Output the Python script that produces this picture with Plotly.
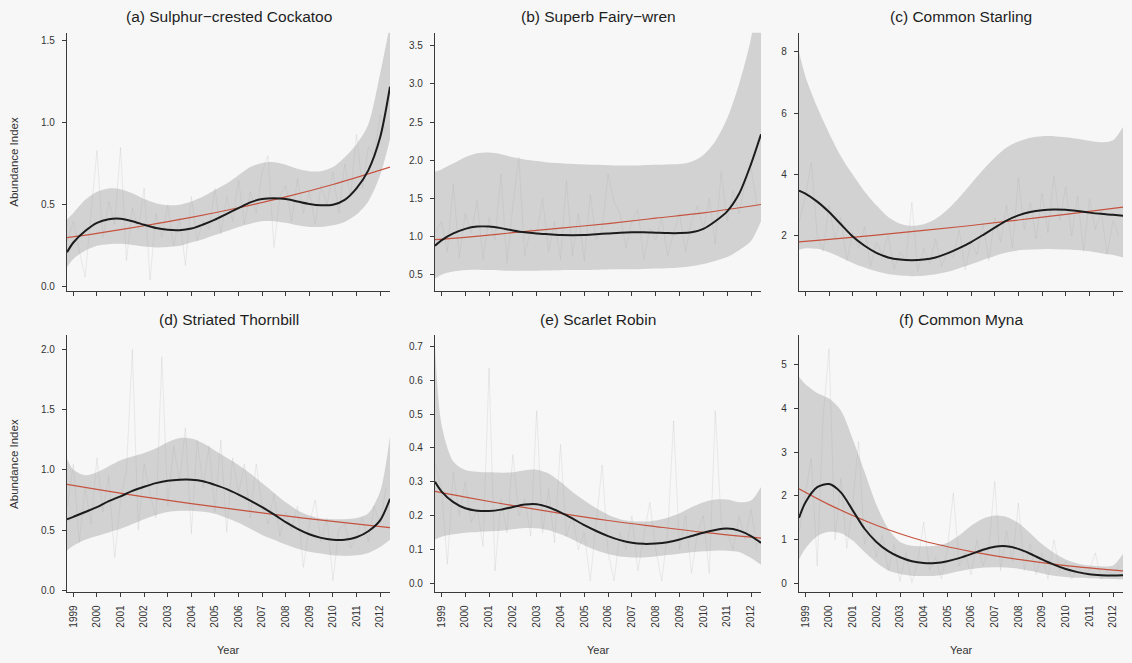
import numpy as np
import plotly.graph_objects as go

# ---- data -------------------------------------------------------------
# Half-yearly knots for the fitted smooth, its confidence band and the trend
KNOTS = [1998.73, 1999.0, 1999.5, 2000.0, 2000.5, 2001.0, 2001.5, 2002.0,
         2002.5, 2003.0, 2003.5, 2004.0, 2004.5, 2005.0, 2005.5, 2006.0,
         2006.5, 2007.0, 2007.5, 2008.0, 2008.5, 2009.0, 2009.5, 2010.0,
         2010.5, 2011.0, 2011.5, 2012.0, 2012.42]
TREND_KNOTS = [1998.73, 2000.0, 2002.0, 2004.0, 2006.0, 2008.0, 2010.0, 2012.42]
YEAR_TICKS = list(range(1999, 2013))
RAW_START = 1998.75  # first survey quarter

# (a) Sulphur-crested Cockatoo
cockatoo_raw = [0.28, 0.40, 0.22, 0.06, 0.45, 0.83, 0.30, 0.52, 0.38, 0.85,
                0.16, 0.48, 0.35, 0.60, 0.04, 0.45, 0.30, 0.50, 0.25, 0.42,
                0.13, 0.55, 0.28, 0.40, 0.35, 0.60, 0.32, 0.55, 0.40, 0.65,
                0.38, 0.58, 0.45, 0.70, 0.80, 0.24, 0.55, 0.62, 0.40, 0.66,
                0.45, 0.58, 0.38, 0.62, 0.50, 0.70, 0.45, 0.75, 0.55, 0.93,
                0.60, 0.85, 0.80, 1.05, 0.95]
cockatoo_fit = [0.21, 0.27, 0.34, 0.39, 0.412, 0.415, 0.40, 0.378, 0.358, 0.347,
                0.345, 0.355, 0.38, 0.41, 0.445, 0.48, 0.515, 0.535, 0.54, 0.535,
                0.52, 0.505, 0.497, 0.50, 0.53, 0.60, 0.71, 0.91, 1.22]
cockatoo_upper = [0.41, 0.45, 0.53, 0.58, 0.60, 0.595, 0.57, 0.535, 0.51, 0.497,
                  0.50, 0.52, 0.55, 0.59, 0.63, 0.68, 0.73, 0.755, 0.76, 0.745,
                  0.72, 0.705, 0.705, 0.73, 0.79, 0.87, 0.99, 1.30, 1.60]
cockatoo_lower = [0.12, 0.17, 0.22, 0.25, 0.26, 0.262, 0.255, 0.245, 0.24, 0.243,
                  0.25, 0.27, 0.29, 0.315, 0.34, 0.365, 0.385, 0.40, 0.40, 0.39,
                  0.375, 0.365, 0.365, 0.375, 0.395, 0.44, 0.52, 0.68, 0.90]
cockatoo_trend = [0.300, 0.326, 0.372, 0.423, 0.482, 0.548, 0.624, 0.730]

# (b) Superb Fairy-wren
fairywren_raw = [1.05, 1.20, 0.80, 1.69, 0.72, 1.30, 1.05, 1.47, 0.70, 1.25,
                 0.95, 1.82, 0.65, 1.40, 2.04, 0.75, 1.10, 1.05, 1.50, 0.80,
                 1.20, 0.70, 1.73, 0.75, 1.30, 0.68, 1.55, 0.95, 1.10, 1.82,
                 1.45, 1.30, 0.85, 1.20, 1.35, 0.70, 1.10, 0.95, 1.25, 0.75,
                 1.05, 1.30, 0.80, 1.20, 1.40, 1.10, 1.50, 0.90, 1.85, 1.20,
                 1.60, 1.30, 1.70, 1.90, 1.40]
fairywren_fit = [0.88, 0.95, 1.04, 1.10, 1.13, 1.13, 1.11, 1.08, 1.055, 1.04,
                 1.03, 1.02, 1.018, 1.02, 1.03, 1.04, 1.05, 1.055, 1.055, 1.05,
                 1.045, 1.045, 1.055, 1.10, 1.20, 1.33, 1.56, 1.95, 2.34]
fairywren_upper = [1.85, 1.88, 1.96, 2.04, 2.09, 2.10, 2.08, 2.04, 2.01, 1.99,
                   1.97, 1.96, 1.95, 1.945, 1.94, 1.935, 1.93, 1.93, 1.935, 1.94,
                   1.945, 1.95, 1.98, 2.07, 2.25, 2.55, 3.00, 3.60, 4.50]
fairywren_lower = [0.45, 0.50, 0.54, 0.56, 0.565, 0.56, 0.555, 0.55, 0.55, 0.552,
                   0.555, 0.558, 0.56, 0.56, 0.565, 0.568, 0.57, 0.572, 0.575, 0.58,
                   0.585, 0.595, 0.61, 0.64, 0.68, 0.73, 0.82, 0.94, 1.20]
fairywren_trend = [0.96, 0.99, 1.05, 1.11, 1.17, 1.24, 1.31, 1.42]

# (c) Common Starling
starling_raw = [2.5, 3.3, 4.40, 2.0, 1.5, 3.0, 1.9, 2.6, 1.2, 2.1,
                1.6, 2.3, 1.0, 1.8, 1.4, 2.0, 0.9, 1.5, 1.2, 3.1,
                0.85, 1.6, 1.1, 1.9, 1.0, 1.5, 1.3, 2.2, 0.9, 1.8,
                1.4, 2.4, 1.2, 2.6, 1.8, 3.0, 1.6, 3.9, 2.2, 3.1,
                1.9, 3.4, 2.1, 3.97, 2.5, 3.6, 2.0, 3.3, 1.5, 3.2,
                2.2, 2.8, 1.4, 2.5, 2.0]
starling_fit = [3.48, 3.38, 3.12, 2.78, 2.38, 1.98, 1.68, 1.45, 1.30, 1.23,
                1.21, 1.23, 1.30, 1.43, 1.60, 1.80, 2.03, 2.27, 2.50, 2.67,
                2.78, 2.84, 2.86, 2.85, 2.81, 2.76, 2.72, 2.69, 2.66]
starling_upper = [8.0, 7.2, 6.2, 5.35, 4.6, 4.0, 3.45, 3.0, 2.62, 2.40,
                  2.33, 2.38, 2.55, 2.85, 3.25, 3.70, 4.15, 4.55, 4.88, 5.08,
                  5.20, 5.25, 5.25, 5.22, 5.17, 5.10, 5.05, 5.12, 5.55]
starling_lower = [1.55, 1.60, 1.58, 1.47, 1.30, 1.12, 0.97, 0.85, 0.76, 0.71,
                  0.69, 0.70, 0.75, 0.83, 0.95, 1.08, 1.22, 1.35, 1.46, 1.53,
                  1.56, 1.57, 1.57, 1.56, 1.54, 1.50, 1.44, 1.38, 1.30]
starling_trend = [1.81, 1.89, 2.03, 2.18, 2.34, 2.52, 2.70, 2.94]

# (d) Striated Thornbill
thornbill_raw = [0.70, 1.05, 0.40, 0.85, 0.55, 1.10, 0.65, 0.95, 0.27, 0.75,
                 1.00, 2.00, 0.50, 1.05, 0.80, 0.60, 1.94, 0.70, 1.20, 0.90,
                 1.35, 0.47, 1.25, 0.85, 1.20, 0.65, 1.25, 0.48, 1.10, 0.80,
                 1.05, 0.60, 1.05, 0.70, 0.55, 0.80, 0.45, 0.65, 0.50, 0.70,
                 0.19, 0.55, 0.75, 0.40, 0.60, 0.08, 0.50, 0.55, 0.35, 0.45,
                 0.60, 0.40, 0.70, 0.55, 0.85]
thornbill_fit = [0.59, 0.61, 0.65, 0.69, 0.74, 0.78, 0.825, 0.86, 0.89, 0.91,
                 0.918, 0.918, 0.905, 0.875, 0.84, 0.795, 0.745, 0.69, 0.63, 0.565,
                 0.51, 0.465, 0.435, 0.42, 0.42, 0.44, 0.49, 0.58, 0.76]
thornbill_upper = [1.09, 1.00, 0.955, 0.98, 1.03, 1.08, 1.11, 1.14, 1.18, 1.23,
                   1.265, 1.26, 1.22, 1.16, 1.10, 1.04, 0.97, 0.89, 0.81, 0.73,
                   0.665, 0.62, 0.595, 0.59, 0.59, 0.60, 0.64, 0.82, 1.28]
thornbill_lower = [0.33, 0.37, 0.42, 0.45, 0.48, 0.51, 0.55, 0.59, 0.625, 0.65,
                   0.66, 0.66, 0.652, 0.635, 0.60, 0.56, 0.51, 0.46, 0.42, 0.38,
                   0.345, 0.32, 0.305, 0.29, 0.285, 0.29, 0.31, 0.36, 0.42]
thornbill_trend = [0.88, 0.838, 0.776, 0.72, 0.667, 0.617, 0.572, 0.52]

# (e) Scarlet Robin
robin_raw = [0.35, 0.28, 0.057, 0.33, 0.20, 0.30, 0.18, 0.22, 0.11, 0.635,
             0.037, 0.25, 0.15, 0.38, 0.20, 0.25, 0.14, 0.51, 0.15, 0.28,
             0.12, 0.41, 0.14, 0.20, 0.10, 0.15, 0.008, 0.18, 0.35, 0.09,
             0.008, 0.15, 0.10, 0.20, 0.037, 0.14, 0.24, 0.10, 0.008, 0.15,
             0.48, 0.10, 0.20, 0.03, 0.15, 0.20, 0.03, 0.51, 0.18, 0.15,
             0.10, 0.20, 0.13, 0.22, 0.10]
robin_fit = [0.30, 0.272, 0.24, 0.222, 0.215, 0.214, 0.218, 0.226, 0.233, 0.234,
             0.225, 0.21, 0.192, 0.172, 0.155, 0.14, 0.128, 0.12, 0.117, 0.118,
             0.122, 0.13, 0.14, 0.15, 0.158, 0.162, 0.156, 0.14, 0.12]
robin_upper = [0.70, 0.47, 0.36, 0.335, 0.33, 0.328, 0.327, 0.328, 0.334, 0.336,
               0.325, 0.30, 0.27, 0.245, 0.222, 0.203, 0.19, 0.184, 0.183, 0.186,
               0.194, 0.207, 0.225, 0.24, 0.248, 0.248, 0.24, 0.245, 0.285]
robin_lower = [0.13, 0.138, 0.145, 0.15, 0.152, 0.154, 0.156, 0.16, 0.164, 0.163,
               0.157, 0.145, 0.13, 0.113, 0.098, 0.087, 0.08, 0.077, 0.077, 0.08,
               0.084, 0.088, 0.092, 0.095, 0.097, 0.097, 0.093, 0.075, 0.055]
robin_trend = [0.272, 0.255, 0.23, 0.207, 0.186, 0.168, 0.151, 0.134]

# (f) Common Myna
myna_raw = [1.2, 2.0, 2.86, 0.4, 3.8, 5.36, 1.0, 2.4, 0.8, 1.8,
            3.24, 0.9, 1.3, 0.6, 1.1, 0.3, 0.9, 0.05, 0.7, 0.02,
            0.5, 1.4, 0.3, 0.6, 0.1, 0.8, 2.07, 0.4, 0.7, 0.2,
            1.0, 0.4, 0.8, 2.33, 0.3, 1.2, 0.5, 1.84, 0.3, 0.9,
            0.2, 0.7, 0.1, 1.0, 0.3, 0.5, 0.1, 0.4, 0.2, 0.3,
            0.7, 0.1, 0.3, 0.2, 0.4]
myna_fit = [1.50, 1.85, 2.20, 2.27, 2.08, 1.67, 1.25, 0.95, 0.74, 0.60,
            0.51, 0.47, 0.47, 0.51, 0.58, 0.67, 0.77, 0.84, 0.85, 0.79,
            0.68, 0.55, 0.43, 0.33, 0.26, 0.21, 0.19, 0.185, 0.19]
myna_upper = [4.72, 4.55, 4.35, 4.22, 3.95, 3.30, 2.55, 1.80, 1.25, 0.95,
              0.86, 0.85, 0.86, 0.93, 1.10, 1.32, 1.48, 1.55, 1.52, 1.38,
              1.15, 0.90, 0.70, 0.55, 0.46, 0.41, 0.39, 0.41, 0.68]
myna_lower = [0.55, 0.80, 1.08, 1.18, 1.15, 0.98, 0.72, 0.48, 0.30, 0.22,
              0.18, 0.17, 0.18, 0.22, 0.28, 0.33, 0.36, 0.37, 0.365, 0.34,
              0.29, 0.23, 0.18, 0.15, 0.13, 0.12, 0.11, 0.105, 0.10]
myna_trend = [2.16, 1.80, 1.33, 0.97, 0.73, 0.55, 0.41, 0.29]

PANELS = [
    dict(title="(a) Sulphur\u2212crested Cockatoo", raw=cockatoo_raw, fit=cockatoo_fit,
         upper=cockatoo_upper, lower=cockatoo_lower, trend=cockatoo_trend,
         yrange=[-0.024, 1.549], yticks=[0.0, 0.5, 1.0, 1.5], fmt="{:.1f}"),
    dict(title="(b) Superb Fairy\u2212wren", raw=fairywren_raw, fit=fairywren_fit,
         upper=fairywren_upper, lower=fairywren_lower, trend=fairywren_trend,
         yrange=[0.29, 3.67], yticks=[0.5, 1.0, 1.5, 2.0, 2.5, 3.0, 3.5], fmt="{:.1f}"),
    dict(title="(c) Common Starling", raw=starling_raw, fit=starling_fit,
         upper=starling_upper, lower=starling_lower, trend=starling_trend,
         yrange=[0.216, 8.62], yticks=[2, 4, 6, 8], fmt="{:d}"),
    dict(title="(d) Striated Thornbill", raw=thornbill_raw, fit=thornbill_fit,
         upper=thornbill_upper, lower=thornbill_lower, trend=thornbill_trend,
         yrange=[-0.017, 2.116], yticks=[0.0, 0.5, 1.0, 1.5, 2.0], fmt="{:.1f}"),
    dict(title="(e) Scarlet Robin", raw=robin_raw, fit=robin_fit,
         upper=robin_upper, lower=robin_lower, trend=robin_trend,
         yrange=[-0.026, 0.732], yticks=[0.0, 0.1, 0.2, 0.3, 0.4, 0.5, 0.6, 0.7],
         fmt="{:.1f}"),
    dict(title="(f) Common Myna", raw=myna_raw, fit=myna_fit,
         upper=myna_upper, lower=myna_lower, trend=myna_trend,
         yrange=[-0.2, 5.66], yticks=[0, 1, 2, 3, 4, 5], fmt="{:d}"),
]

# ---- layout geometry (pixels of a 1132 x 663 page) ----------------------
W, H = 1132, 663
COLS_PX = [(67, 390), (435, 761), (799, 1123)]
ROWS_PX = [(33, 292), (337, 595)]
XRANGE = [1998.73, 2012.42]

FONT = "Liberation Sans, Arial, Helvetica, sans-serif"
BG = "#f7f7f7"
BAND = "rgba(200,200,200,0.78)"
RAW = "rgba(165,165,165,0.28)"
FIT = "#1c1c1c"
TREND = "#c5533f"
AXIS = "#3a3a3a"

fig = go.Figure()
layout = dict(width=W, height=H, margin=dict(l=0, r=0, t=0, b=0), autosize=False,
              paper_bgcolor=BG, plot_bgcolor=BG, showlegend=False,
              font=dict(family=FONT, color="#333"))
annotations = []

for i, p in enumerate(PANELS):
    row, col = divmod(i, 3)
    n = i + 1
    xa = "x" if n == 1 else f"x{n}"
    ya = "y" if n == 1 else f"y{n}"
    x0, x1 = COLS_PX[col]
    y0, y1 = ROWS_PX[row]
    xdom = [x0 / W, x1 / W]
    ydom = [1 - y1 / H, 1 - y0 / H]

    raw_x = RAW_START + 0.25 * np.arange(len(p["raw"]))

    # confidence band
    fig.add_trace(go.Scatter(x=KNOTS, y=p["upper"], mode="lines",
                             line=dict(width=0, shape="spline", smoothing=0.8),
                             hoverinfo="skip", xaxis=xa, yaxis=ya))
    fig.add_trace(go.Scatter(x=KNOTS, y=p["lower"], mode="lines", fill="tonexty",
                             fillcolor=BAND,
                             line=dict(width=0, shape="spline", smoothing=0.8),
                             hoverinfo="skip", xaxis=xa, yaxis=ya))
    # quarterly observed index
    fig.add_trace(go.Scatter(x=raw_x, y=p["raw"], mode="lines",
                             line=dict(width=0.7, color=RAW),
                             hoverinfo="skip", xaxis=xa, yaxis=ya))
    # log-linear trend
    fig.add_trace(go.Scatter(x=TREND_KNOTS, y=p["trend"], mode="lines",
                             line=dict(width=1.2, color=TREND, shape="spline"),
                             xaxis=xa, yaxis=ya))
    # smoothed fit
    fig.add_trace(go.Scatter(x=KNOTS, y=p["fit"], mode="lines",
                             line=dict(width=2.0, color=FIT, shape="spline",
                                       smoothing=0.8),
                             xaxis=xa, yaxis=ya))

    bottom = row == 1
    layout["xaxis" if n == 1 else f"xaxis{n}"] = dict(
        domain=xdom, anchor=ya, range=XRANGE, showgrid=False, zeroline=False,
        showline=True, linecolor=AXIS, linewidth=1.2,
        ticks="outside", ticklen=4, tickcolor=AXIS, tickwidth=1,
        tickvals=YEAR_TICKS, ticktext=[str(v) for v in YEAR_TICKS],
        showticklabels=bottom, tickangle=-90,
        tickfont=dict(size=10, color="#333"), ticklabelstandoff=4,
    )
    layout["yaxis" if n == 1 else f"yaxis{n}"] = dict(
        domain=ydom, anchor=xa, range=p["yrange"], showgrid=False, zeroline=False,
        showline=True, linecolor=AXIS, linewidth=1.2,
        ticks="outside", ticklen=4, tickcolor=AXIS, tickwidth=1,
        tickvals=p["yticks"], ticktext=[p["fmt"].format(v) for v in p["yticks"]],
        tickfont=dict(size=10, color="#333"), ticklabelstandoff=5,
    )

    # panel title
    annotations.append(dict(text=p["title"], x=(x0 + x1) / 2 / W, y=1 - (y0 - 16) / H,
                            xref="paper", yref="paper", showarrow=False,
                            xanchor="center", yanchor="middle",
                            font=dict(size=15.5, color="#1e1e1e")))
    if bottom:
        annotations.append(dict(text="Year", x=(x0 + x1) / 2 / W, y=1 - 653 / H,
                                xref="paper", yref="paper", showarrow=False,
                                xanchor="center", yanchor="middle",
                                font=dict(size=11, color="#333")))
    if col == 0:
        annotations.append(dict(text="Abundance Index", x=14 / W,
                                y=1 - ((y0 + y1) / 2) / H, xref="paper", yref="paper",
                                showarrow=False, textangle=-90,
                                xanchor="center", yanchor="middle",
                                font=dict(size=11.5, color="#333")))

layout["annotations"] = annotations
fig.update_layout(**layout)
fig.write_html("out.html")
